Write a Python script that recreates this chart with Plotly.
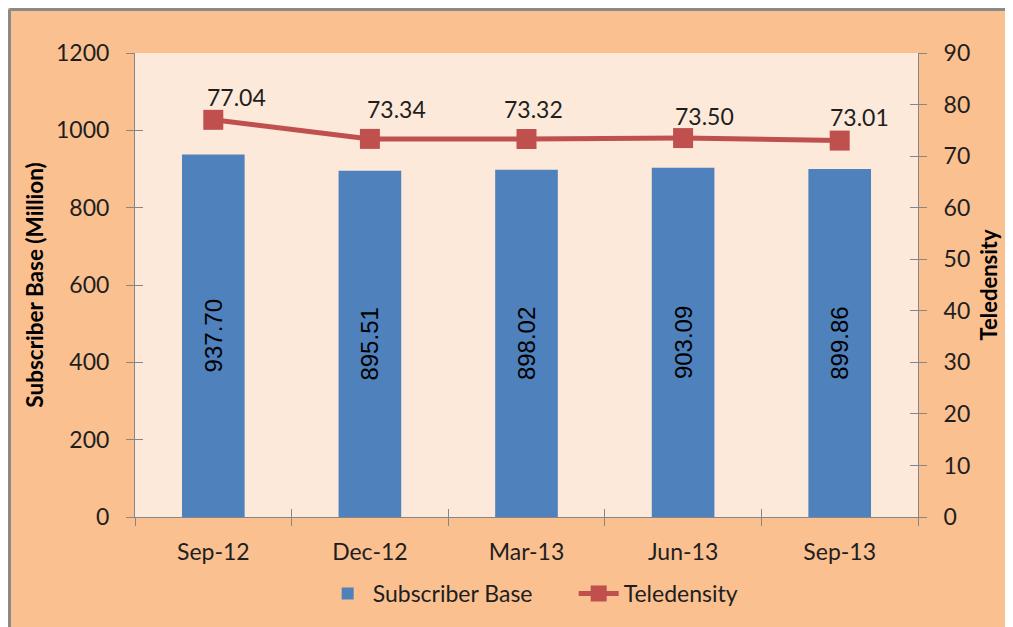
import plotly.graph_objects as go

months = ["Sep-12", "Dec-12", "Mar-13", "Jun-13", "Sep-13"]
subscriber_base = [937.70, 895.51, 898.02, 903.09, 899.86]
teledensity = [77.04, 73.34, 73.32, 73.50, 73.01]

# label placement offsets (pixels) for the teledensity data labels
label_dx = [23, 27, 7, 21, 20]
label_dy = [23, 30, 30, 22, 24]

PEACH = "#FAC090"
PLOT_BG = "#FDE9D9"
BAR = "#4F81BD"
LINE = "#C0504D"
AXIS = "#868686"
TEXT = "#1E1E1E"
FONT = "Lato, Calibri, Carlito, sans-serif"

fig = go.Figure()

fig.add_trace(go.Bar(
    x=months, y=subscriber_base, name="Subscriber Base",
    marker=dict(color=BAR, line=dict(width=0)),
    width=0.4,
    text=[f"{v:.2f}" for v in subscriber_base],
    textposition="inside", insidetextanchor="middle", textangle=-90,
    textfont=dict(family="Liberation Sans, Arial, sans-serif", size=24, color="#000000"),
    cliponaxis=False,
))

fig.add_trace(go.Scatter(
    x=months, y=teledensity, name="Teledensity", yaxis="y2",
    mode="lines+markers",
    line=dict(color=LINE, width=5),
    marker=dict(symbol="square", size=20, color=LINE),
    cliponaxis=False,
))

# helper traces for the inner half of the cross tick marks
fig.add_trace(go.Scatter(x=months, y=[None] * len(months), xaxis="x2", yaxis="y3",
                         showlegend=False, hoverinfo="skip"))
fig.add_trace(go.Scatter(x=months, y=[None] * len(months), xaxis="x2", yaxis="y4",
                         showlegend=False, hoverinfo="skip"))

annotations = []
for m, v, dx, dy in zip(months, teledensity, label_dx, label_dy):
    annotations.append(dict(
        x=m, y=v, xref="x", yref="y2", text=f"{v:.2f}", showarrow=False,
        xanchor="center", yanchor="middle", xshift=dx, yshift=dy,
        font=dict(family=FONT, size=23, color=TEXT),
    ))

ax_common = dict(showgrid=False, zeroline=False, tickcolor=AXIS, tickwidth=1)

fig.update_layout(
    width=1005, height=619,
    margin=dict(l=127, r=95, t=45, b=110),
    paper_bgcolor=PEACH, plot_bgcolor=PLOT_BG,
    font=dict(family=FONT, size=23, color=TEXT),
    xaxis=dict(**ax_common, type="category", categoryarray=months, range=[-0.5, 4.5],
               showline=True, linecolor=AXIS, linewidth=1,
               ticks="outside", ticklen=8, tickson="boundaries",
               ticklabelstandoff=14,
               tickfont=dict(size=23, color=TEXT)),
    xaxis2=dict(**ax_common, type="category", categoryarray=months, range=[-0.5, 4.5],
                overlaying="x", showticklabels=False, showline=False,
                ticks="inside", ticklen=8, tickson="boundaries"),
    yaxis=dict(**ax_common, range=[0, 1200], dtick=200,
               showline=True, linecolor=AXIS, linewidth=1,
               ticks="outside", ticklen=8,
               ticklabelstandoff=12,
               tickfont=dict(size=23, color=TEXT),
               title=dict(text="<b>Subscriber Base (Million)</b>", font=dict(size=22.5, color="#000"),
                          standoff=6)),
    yaxis2=dict(**ax_common, range=[0, 90], dtick=10, overlaying="y", side="right",
                showline=True, linecolor=AXIS, linewidth=1,
                ticks="outside", ticklen=8,
                ticklabelstandoff=12,
                tickfont=dict(size=23, color=TEXT),
                title=dict(text="<b>Teledensity</b>", font=dict(size=22, color="#000"),
                           standoff=12)),
    yaxis3=dict(**ax_common, range=[0, 1200], dtick=200, overlaying="y", side="left",
                showticklabels=False, showline=False, ticks="inside", ticklen=8),
    yaxis4=dict(**ax_common, range=[0, 90], dtick=10, overlaying="y", side="right",
                showticklabels=False, showline=False, ticks="inside", ticklen=8),
    legend=dict(orientation="h", x=0.2397, xanchor="left", y=-0.165, yanchor="middle",
                font=dict(size=23, color=TEXT), bgcolor="rgba(0,0,0,0)",
                itemwidth=40, entrywidth=196, traceorder="normal"),
    annotations=annotations,
    shapes=[
        dict(type="line", xref="paper", yref="paper", x0=-0.16028, x1=-0.16028, y0=-0.3, y1=1.0938,
             line=dict(color="#8A8A8A", width=3), layer="above"),
        dict(type="line", xref="paper", yref="paper", x0=-0.16028, x1=1.2, y0=1.0938, y1=1.0938,
             line=dict(color="#8A8A8A", width=3), layer="above"),
    ],
)

fig.write_html("out.html")
